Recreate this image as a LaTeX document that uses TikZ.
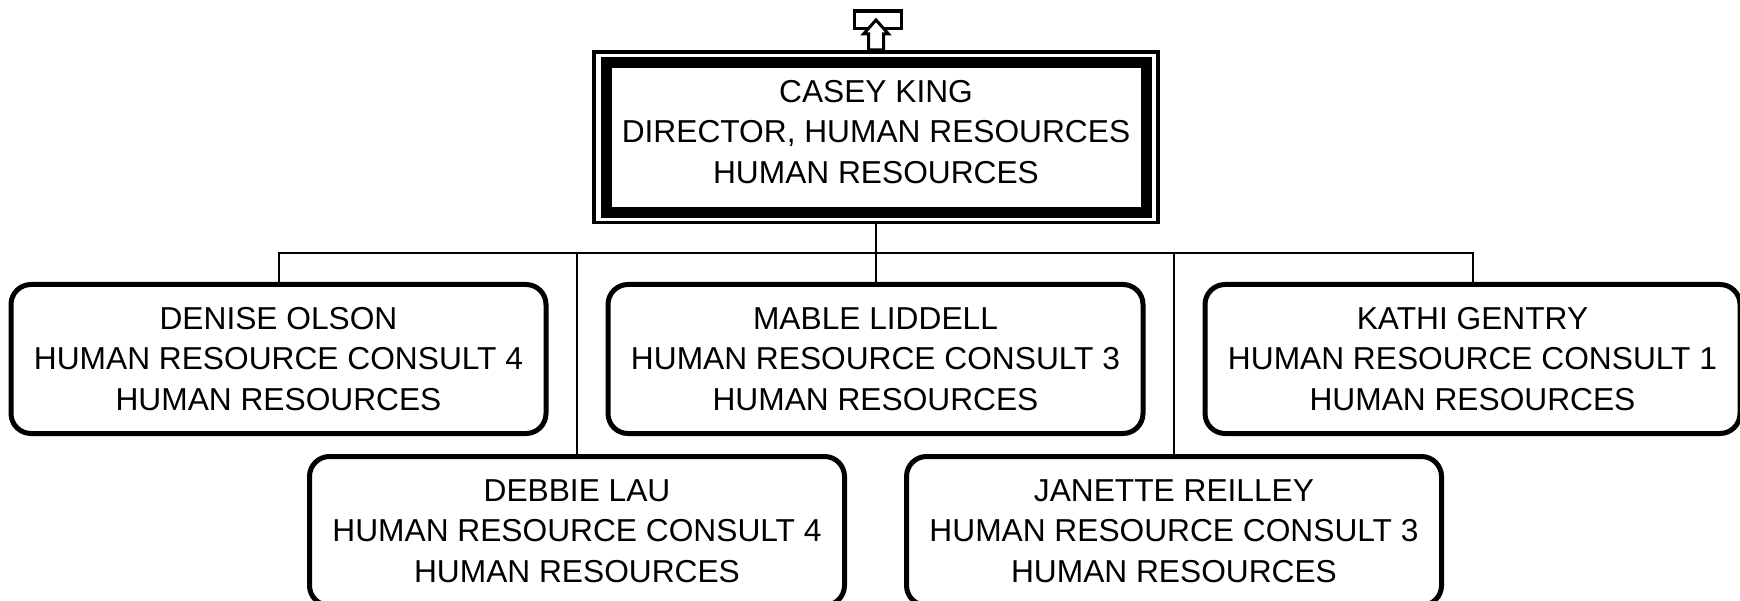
\documentclass[tikz,border=0pt]{standalone}
\usepackage{fontspec}
\setmainfont{Liberation Sans}
\begin{document}
\begin{tikzpicture}[x=1pt,y=-1pt,
  txt/.style={align=center, font=\fontsize{31.7}{40.7}\selectfont},
  emp/.style={draw, line width=5pt, rounded corners=20pt, minimum width=535pt, minimum height=149pt, inner sep=0pt, txt},
  conn/.style={line width=2pt},
  dirbox/.style={draw, line width=11pt, minimum width=540pt, minimum height=150pt, inner sep=0pt},
  diroutline/.style={draw, line width=3.3pt, minimum width=564pt, minimum height=170.6pt, inner sep=0pt}]
\clip (0,0) rectangle (1740,601);
\fill[white] (0,0) rectangle (1740,601);
% top icon
\node[draw, line width=3.3pt, minimum width=47pt, minimum height=17.3pt, inner sep=0pt] (icon) at (877.8,19.7) {};
\draw[line width=3pt, fill=white, line join=miter] (876,20) -- (888.5,34) -- (883.5,34) -- (883.5,50) -- (868.5,50) -- (868.5,34) -- (863.5,34) -- cycle;
% director
\node[diroutline] (dirout) at (876,137.3) {};
\node[dirbox] (dir) at (876,138) {};
\node[txt] (dirtext) at (876,132) {CASEY KING\\DIRECTOR, HUMAN RESOURCES\\HUMAN RESOURCES};
% row 1
\node[emp] (denise) at (278.5,359) {DENISE OLSON\\HUMAN RESOURCE CONSULT 4\\HUMAN RESOURCES};
\node[emp] (mable) at (875.5,359) {MABLE LIDDELL\\HUMAN RESOURCE CONSULT 3\\HUMAN RESOURCES};
\node[emp] (kathi) at (1472.5,359) {KATHI GENTRY\\HUMAN RESOURCE CONSULT 1\\HUMAN RESOURCES};
% row 2
\node[emp] (debbie) at (577,531) {DEBBIE LAU\\HUMAN RESOURCE CONSULT 4\\HUMAN RESOURCES};
\node[emp] (janette) at (1174,531) {JANETTE REILLEY\\HUMAN RESOURCE CONSULT 3\\HUMAN RESOURCES};
% connectors
\coordinate (bus) at (876,253);
\draw[conn] (dirout.south) -- (dirout.south |- bus);
\draw[conn] (denise.north) -- (denise.north |- bus) -- (kathi.north |- bus) -- (kathi.north);
\draw[conn] (mable.north) -- (mable.north |- bus);
\draw[conn] (debbie.north) -- (debbie.north |- bus);
\draw[conn] (janette.north) -- (janette.north |- bus);
\end{tikzpicture}
\end{document}
